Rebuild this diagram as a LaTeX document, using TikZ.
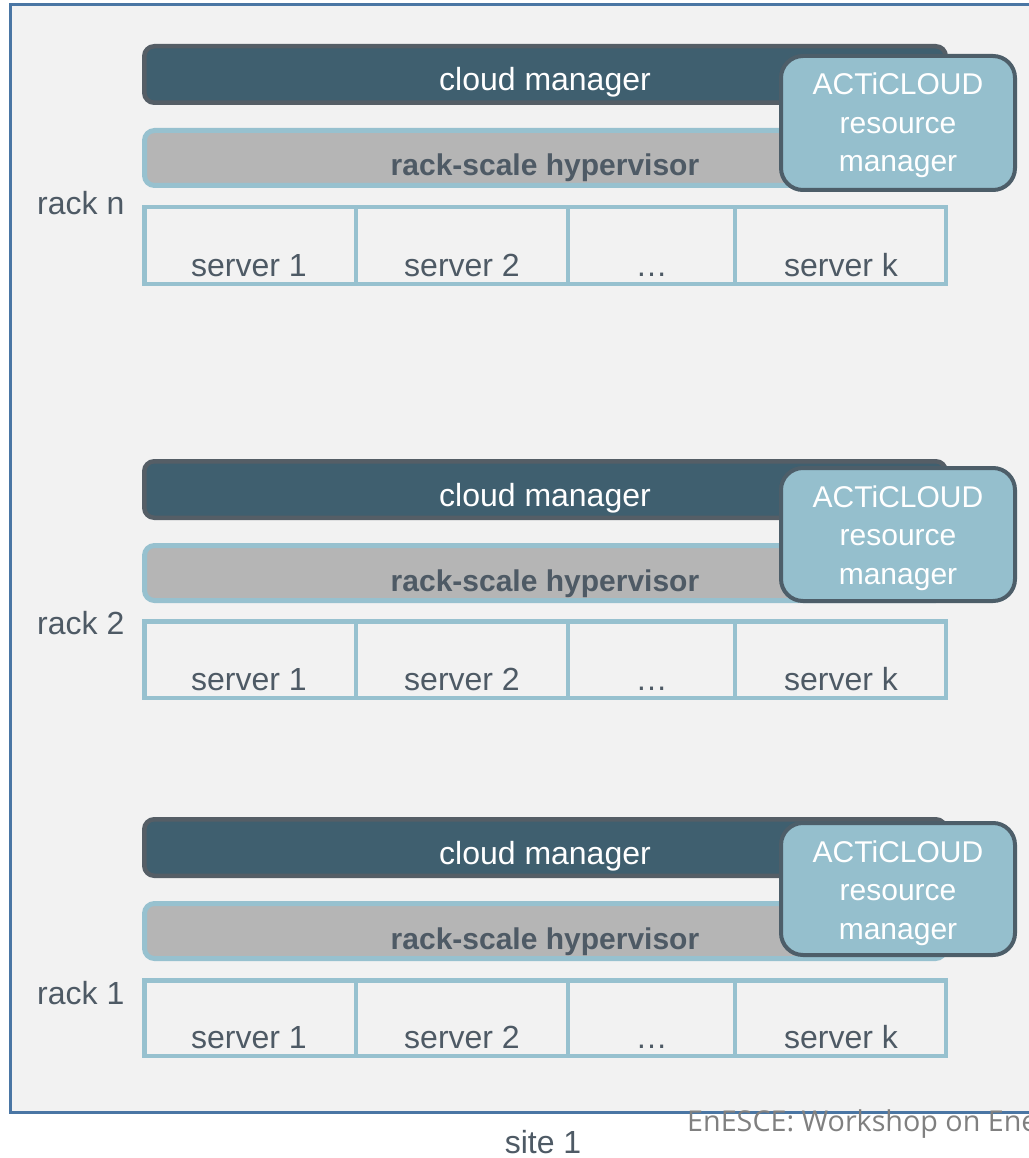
\documentclass[tikz,border=0pt]{standalone}
\usepackage{fontspec}
\setmainfont{Liberation Sans}
\newfontfamily\footfont{Open Sans}
\definecolor{bgc}{HTML}{F2F2F2}
\definecolor{framec}{HTML}{4A76A4}
\definecolor{cmfill}{HTML}{3F5F6F}
\definecolor{cmline}{HTML}{555E66}
\definecolor{hvfill}{HTML}{B5B5B5}
\definecolor{lblue}{HTML}{97C1CF}
\definecolor{actifill}{HTML}{95BFCD}
\definecolor{actiline}{HTML}{4D5E69}
\definecolor{txtdark}{HTML}{4E5A65}
\definecolor{footc}{HTML}{808080}
\tikzset{
  cmbox/.style={draw=cmline, fill=cmfill, line width=4.5pt, rounded corners=10pt,
    minimum width=801.5pt, minimum height=56.5pt, inner sep=0pt},
  hvbox/.style={draw=lblue, fill=hvfill, line width=5pt, rounded corners=10pt,
    minimum width=801pt, minimum height=55pt, inner sep=0pt},
  srv/.style={draw=lblue, line width=4.5pt, inner sep=0pt},
  actibox/.style={draw=actiline, fill=actifill, line width=4pt, rounded corners=22pt,
    minimum width=234pt, inner sep=0pt},
  wtxt/.style={text=white, font=\fontsize{32}{38}\selectfont, inner sep=0pt, anchor=base},
  atxt/.style={text=white, font=\fontsize{30}{36}\selectfont, inner sep=0pt, anchor=base},
  btxt/.style={text=txtdark, font=\fontsize{30}{36}\selectfont\bfseries, inner sep=0pt, anchor=base},
  dtxt/.style={text=txtdark, font=\fontsize{32}{38}\selectfont, inner sep=0pt, anchor=base},
}
% #1 id, #2 label, #3 cm top, #4 hv top, #5 server top, #6 server bottom,
% #7 acti top, #8 acti bottom, #9 label baseline
\newcommand\myrack[9]{%
  \node[cmbox] (cm#1) at (545, {#3+30.5}) {};
  \node[wtxt] (cmt#1) at (545, {#3+47}) {cloud manager};
  \node[hvbox] (hv#1) at (545, {#4+30}) {};
  \node[btxt] (hvt#1) at (545, {#4+48}) {rack-scale hypervisor};
  \node[srv, minimum width=211.75pt, minimum height={#6-#5-4.5}] (sa#1) at (250.125, {(#5+#6)/2}) {};
  \node[srv, minimum width=212pt, minimum height={#6-#5-4.5}] (sb#1) at (462, {(#5+#6)/2}) {};
  \node[srv, minimum width=167pt, minimum height={#6-#5-4.5}] (sc#1) at (651.5, {(#5+#6)/2}) {};
  \node[srv, minimum width=210.75pt, minimum height={#6-#5-4.5}] (sd#1) at (840.375, {(#5+#6)/2}) {};
  \node[dtxt] (sat#1) at (249, {#6-9.5}) {server 1};
  \node[dtxt] (sbt#1) at (462, {#6-9.5}) {server 2};
  \node[dtxt] (sct#1) at (651.5, {#6-9.5}) {\dots};
  \node[dtxt] (sdt#1) at (841, {#6-9.5}) {server k};
  \node[dtxt, anchor=base west] (lbl#1) at (37, #9) {#2};
  \node[actibox, minimum height={#8-#7-4}] (ac#1) at (898, {(#7+#8)/2}) {};
  \node[atxt] (aca#1) at (898, {#7+41}) {ACTiCLOUD};
  \node[atxt] (acb#1) at (898, {#7+79.5}) {resource};
  \node[atxt] (acc#1) at (898, {#7+118}) {manager};
}
\begin{document}
\begin{tikzpicture}[x=1pt, y=-1pt]
\useasboundingbox (0,0) rectangle (1028,1158);
\fill[white] (0,0) rectangle (1028,1158);
\draw[draw=framec, fill=bgc, line width=3pt] (10.5,4.5) rectangle (1045,1112.5);
\myrack{n}{rack n}{44}{128}{205}{286}{54}{192}{215}
\myrack{two}{rack 2}{459}{543}{619}{700}{466}{603}{634}
\myrack{one}{rack 1}{817}{901}{978}{1058}{821}{957}{1004}
\node[dtxt] (site) at (543, 1153.5) {site 1};
\node[text=footc, font=\footfont\fontsize{28.7}{34}\selectfont, inner sep=0pt, anchor=base west] (foot) at (687, 1131) {EnESCE: Workshop on Ener};
\end{tikzpicture}
\end{document}
